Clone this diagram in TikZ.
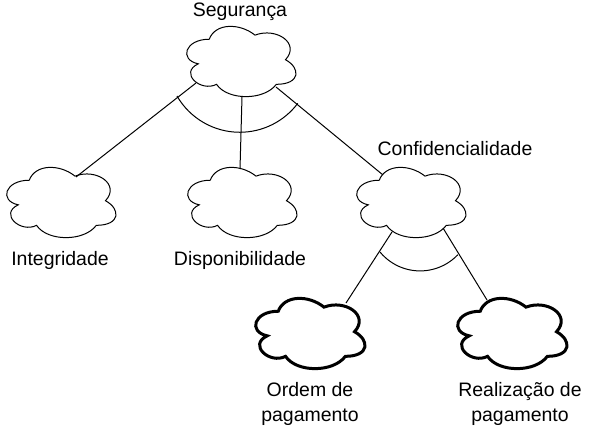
\documentclass[tikz,border=0pt]{standalone}
\usepackage{fontspec}
\setmainfont{Liberation Sans}
\tikzset{
  nuvem/.style={minimum width=91.5pt, minimum height=61.5pt, inner sep=0pt},
  rotulo/.style={inner sep=0pt, font=\fontsize{14.6}{18.75}\selectfont},
  liga/.style={line width=0.75pt}
}
\begin{document}
\begin{tikzpicture}[x=0.75pt, y=-0.75pt]
\useasboundingbox (0,0) rectangle (592,431);
% clouds (invisible boxes, outline drawn below)
\node[nuvem] (seg) at (240,60) {};
\node[nuvem] (int) at (60,201) {};
\node[nuvem] (dis) at (241,201) {};
\node[nuvem] (conf) at (410,201) {};
\node[nuvem] (ord) at (309,332) {};
\node[nuvem] (real) at (511,332) {};
\foreach \n/\lw in {seg/0.75pt, int/0.75pt, dis/0.75pt, conf/0.75pt, ord/2.25pt, real/2.25pt}
  \draw[line width=\lw, shift={(\n.north west)}, x=91.5pt, y=-61.5pt]
    (0.25,0.25) .. controls (0.05,0.25) and (0,0.5) .. (0.16,0.55)
    .. controls (0,0.66) and (0.18,0.9) .. (0.31,0.8)
    .. controls (0.4,1) and (0.7,1) .. (0.8,0.8)
    .. controls (1,0.8) and (1,0.6) .. (0.875,0.5)
    .. controls (1,0.3) and (0.8,0.1) .. (0.625,0.2)
    .. controls (0.5,0.05) and (0.3,0.05) .. (0.25,0.25) -- cycle;
% labels
\node[rotulo, anchor=base] (tseg) at (240,17) {Segurança};
\node[rotulo, anchor=base] (tint) at (60,265) {Integridade};
\node[rotulo, anchor=base] (tdis) at (240,265) {Disponibilidade};
\node[rotulo, anchor=base] (tconf) at (455,156) {Confidencialidade};
\node[rotulo, align=center] (tord) at (310,404) {Ordem de\\pagamento};
\node[rotulo, align=center] (treal) at (520,404) {Realização de\\pagamento};
% connectors
\draw[liga] ([shift={(-44,23)}]seg.center) -- ([shift={(16,-24)}]int.center);
\draw[liga] ([shift={(2,37)}]seg.center) -- ([shift={(-1,-32)}]dis.center);
\draw[liga] ([shift={(36,27)}]seg.center) -- ([shift={(-27,-26)}]conf.center);
\draw[liga] ([shift={(-18,31)}]conf.center) -- ([shift={(37,-29)}]ord.center);
\draw[liga] ([shift={(33,27)}]conf.center) -- ([shift={(-24,-32)}]real.center);
% and-arcs
\draw[liga] (177,96) arc[start angle=210, end angle=323, radius=54.4pt];
\draw[liga] (380,252) arc[start angle=219.5, end angle=316.5, radius=39pt];
\end{tikzpicture}
\end{document}
